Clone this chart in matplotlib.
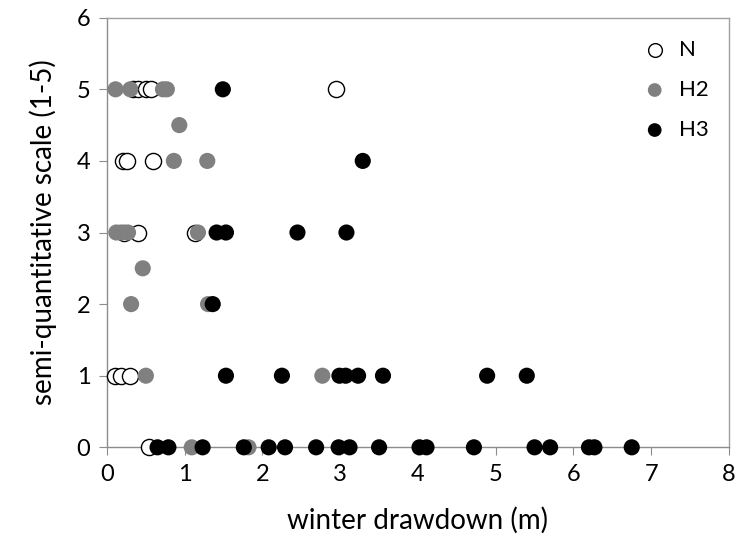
import matplotlib.pyplot as plt

plt.rcParams['font.family'] = ['Lato', 'DejaVu Sans']

# N (open circles)
n_x = [0.33, 0.40, 0.50, 0.56, 2.95, 0.20, 0.26, 0.59, 0.22, 0.40, 1.13,
       0.10, 0.18, 0.29, 0.54]
n_y = [5, 5, 5, 5, 5, 4, 4, 4, 3, 3, 3, 1, 1, 1, 0]

# H2 (grey)
h2_x = [0.11, 0.30, 0.72, 0.77, 0.93, 0.86, 1.29, 0.12, 0.18, 0.27, 1.17,
        0.46, 0.31, 1.30, 0.50, 2.77, 1.09, 1.82]
h2_y = [5, 5, 5, 5, 4.5, 4, 4, 3, 3, 3, 3, 2.5, 2, 2, 1, 1, 0, 0]

# H3 (black)
h3_x = [1.49, 3.29, 1.41, 1.53, 2.45, 3.08, 1.36,
        1.53, 2.25, 2.99, 3.07, 3.23, 3.55, 4.89, 5.40,
        0.65, 0.79, 1.23, 1.76, 2.08, 2.29, 2.69, 2.98, 3.12, 3.50,
        4.02, 4.11, 4.72, 5.50, 5.70, 6.20, 6.27, 6.75]
h3_y = [5, 4, 3, 3, 3, 3, 2,
        1, 1, 1, 1, 1, 1, 1, 1,
        0, 0, 0, 0, 0, 0, 0, 0, 0, 0,
        0, 0, 0, 0, 0, 0, 0, 0]

axis_col = '#8c8c8c'

fig = plt.figure(figsize=(7.4, 5.5), dpi=100)
ax = fig.add_axes([0.1446, 0.1867, 0.8404, 0.7811])

ax.scatter(n_x, n_y, s=135, facecolor='white', edgecolor='black', linewidth=1.0,
           label='N', zorder=3, clip_on=False)
ax.scatter(h2_x, h2_y, s=135, color='#808080', edgecolor='none',
           label='H2', zorder=3, clip_on=False)
ax.scatter(h3_x, h3_y, s=135, color='black', edgecolor='none',
           label='H3', zorder=3, clip_on=False)

ax.set_xlim(0, 8)
ax.set_ylim(0, 6)
ax.set_xticks(range(0, 9))
ax.set_yticks(range(0, 7))

for side in ['left', 'bottom', 'top', 'right']:
    ax.spines[side].set_color(axis_col)
    ax.spines[side].set_linewidth(1.0)
ax.spines['top'].set_color('#a0a0a0')
ax.spines['right'].set_color('#a0a0a0')

ax.tick_params(axis='both', direction='out', length=6, color=axis_col,
               labelsize=17, pad=6)

ax.set_xlabel('winter drawdown (m)', fontsize=20, labelpad=16)
ax.set_ylabel('semi-quantitative scale (1-5)', fontsize=20, labelpad=14)

ax.legend(loc='upper right', frameon=False, fontsize=16, labelspacing=0.9,
          handletextpad=0.1, markerscale=0.85, bbox_to_anchor=(1.0, 0.995))

plt.savefig('out.png', dpi=100)
